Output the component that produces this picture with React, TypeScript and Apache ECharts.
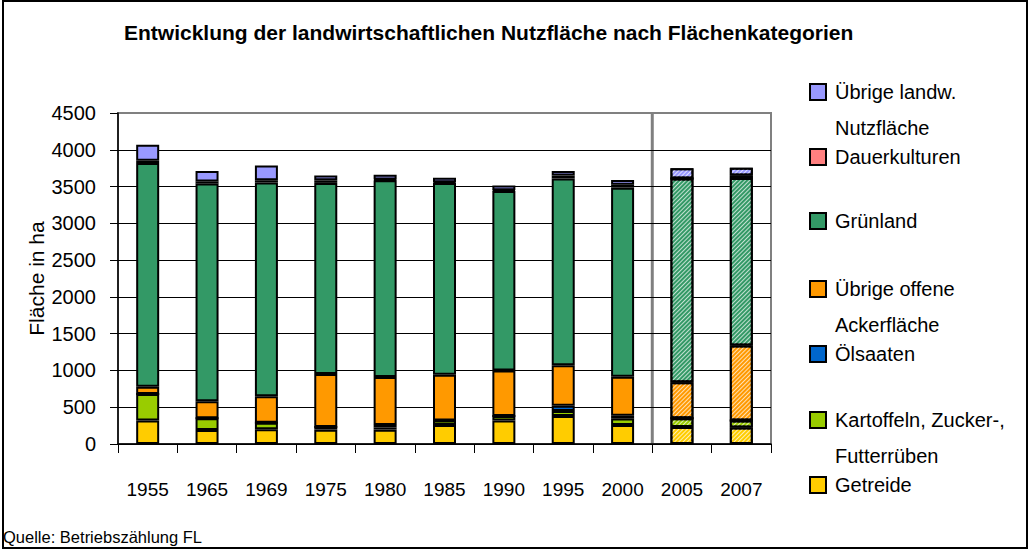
import React, { useEffect, useRef } from "react";
import * as echarts from "echarts";

const FONT = "'Liberation Sans', Arial, sans-serif";

const categories = ["1955", "1965", "1969", "1975", "1980", "1985", "1990", "1995", "2000", "2005", "2007"];
const yTicks = [0, 4500, 500];

const getreide = [320, 190, 200, 195, 195, 260, 320, 380, 260, 230, 225];
const kartoffeln = [360, 160, 90, 35, 30, 60, 60, 70, 85, 120, 95];
const oelsaaten = [0, 0, 0, 0, 35, 0, 0, 70, 40, 0, 0];
const uebrigeOffene = [100, 230, 360, 720, 650, 620, 620, 550, 530, 490, 1020];
const gruenland = [3040, 2960, 2905, 2600, 2675, 2610, 2440, 2540, 2570, 2770, 2275];
const dauerkulturen = [30, 30, 30, 35, 10, 10, 10, 40, 40, 0, 35];
const uebrigeLandw = [220, 140, 200, 65, 65, 60, 65, 60, 65, 140, 105];

const hatchedFrom = 9;

const seriesDefs = [
  { name: "Getreide", label: "Getreide", second: "", color: "#FFCC00", data: getreide, legendTop: 475 },
  { name: "Kartoffeln, Zucker-, Futterrüben", label: "Kartoffeln, Zucker-,", second: "Futterrüben", color: "#99CC00", data: kartoffeln, legendTop: 410 },
  { name: "Ölsaaten", label: "Ölsaaten", second: "", color: "#0066CC", data: oelsaaten, legendTop: 344 },
  { name: "Übrige offene Ackerfläche", label: "Übrige offene", second: "Ackerfläche", color: "#FF9900", data: uebrigeOffene, legendTop: 279 },
  { name: "Grünland", label: "Grünland", second: "", color: "#339966", data: gruenland, legendTop: 211 },
  { name: "Dauerkulturen", label: "Dauerkulturen", second: "", color: "#FF8080", data: dauerkulturen, legendTop: 147 },
  { name: "Übrige landw. Nutzfläche", label: "Übrige landw.", second: "Nutzfläche", color: "#9999FF", data: uebrigeLandw, legendTop: 82 },
];

const HATCH = {
  symbol: "rect",
  symbolSize: 1,
  dashArrayX: [1, 0],
  dashArrayY: [1, 1.5],
  rotation: -Math.PI / 4,
  color: "rgba(255,255,255,0.7)",
};

export default function App() {
  const ref = useRef<HTMLDivElement>(null);
  useEffect(() => {
    if (!ref.current) return;
    const chart = echarts.init(ref.current, null, { renderer: "svg" });
    const gridLineColors = Array.from({ length: 10 }, (_, i) => (i === 9 ? "#808080" : "#000"));
    const series = seriesDefs.map((s) => ({
      name: s.name,
      type: "bar",
      stack: "total",
      barWidth: 23,
      itemStyle: { color: s.color, borderColor: "#000", borderWidth: 2 },
      data: s.data.map((v, i) => (i >= hatchedFrom ? { value: v, itemStyle: { decal: HATCH } } : v)),
    }));
    const legends = seriesDefs.map((s) => ({
      data: [s.name],
      left: 809,
      top: s.legendTop,
      padding: 0,
      icon: "rect",
      itemWidth: 16,
      itemHeight: 16,
      selectedMode: false,
      formatter: () => s.label,
      textStyle: { fontSize: 20, color: "#000", fontFamily: FONT, padding: [0, 0, 0, 4] },
    }));
    const secondLines = seriesDefs
      .filter((s) => s.second)
      .map((s) => ({
        type: "text",
        left: 835,
        top: s.legendTop + 36,
        style: { text: s.second, fontSize: 20, fill: "#000", fontFamily: FONT },
      }));
    const baseGraphic = [
      {
        type: "rect",
        shape: { x: 3, y: 1, width: 1024, height: 547 },
        style: { fill: "none", stroke: "#000", lineWidth: 2 },
        silent: true,
      },
      {
        type: "text",
        left: 3,
        top: 528,
        style: { text: "Quelle: Betriebszählung FL", fontSize: 16.5, fill: "#000", fontFamily: FONT },
      },
      ...secondLines,
    ];
    chart.setOption({
      animation: false,
      backgroundColor: "#fff",
      title: {
        text: "Entwicklung der landwirtschaftlichen Nutzfläche nach Flächenkategorien",
        left: 124,
        top: 22,
        padding: 0,
        textStyle: { fontSize: 21, fontWeight: "bold", color: "#000", fontFamily: FONT },
      },
      legend: legends,
      grid: {
        left: 118,
        right: 260,
        top: 113,
        bottom: 111,
        show: true,
        outerBoundsMode: "none",
        containLabel: false,
        borderColor: "#808080",
        borderWidth: 2,
        backgroundColor: "transparent",
      },
      xAxis: {
        type: "category",
        data: categories,
        axisLine: { lineStyle: { color: "#000", width: 1.5 } },
        axisTick: { show: true, length: 9, interval: 0, lineStyle: { color: "#000" } },
        axisLabel: { margin: 36, fontSize: 19, color: "#000", fontFamily: FONT, interval: 0 },
        splitLine: { show: false },
      },
      yAxis: {
        type: "value",
        min: yTicks[0],
        max: yTicks[1],
        interval: yTicks[2],
        name: "Fläche in ha",
        nameLocation: "middle",
        nameGap: 71,
        nameMoveOverlap: false,
        nameTextStyle: { fontSize: 21, color: "#000", fontFamily: FONT },
        axisLine: { show: true, lineStyle: { color: "#000", width: 1.5 } },
        axisTick: { show: true, length: 8, lineStyle: { color: "#000" } },
        axisLabel: { margin: 22, fontSize: 20, color: "#000", fontFamily: FONT, formatter: (v: number) => String(v) },
        splitLine: { show: true, lineStyle: { color: gridLineColors, width: 1 } },
      },
      graphic: baseGraphic,
      series,
    });
    // separator between the 2000 and 2005 categories, positioned from the axis scale
    const xa = chart.convertToPixel({ xAxisIndex: 0 }, categories[hatchedFrom - 1]) as number;
    const xb = chart.convertToPixel({ xAxisIndex: 0 }, categories[hatchedFrom]) as number;
    const y0 = chart.convertToPixel({ yAxisIndex: 0 }, yTicks[0]) as number;
    const y1 = chart.convertToPixel({ yAxisIndex: 0 }, yTicks[1]) as number;
    const xs = (xa + xb) / 2;
    chart.setOption({
      graphic: [
        ...baseGraphic,
        {
          type: "line",
          shape: { x1: xs, y1: y1, x2: xs, y2: y0 },
          style: { stroke: "#808080", lineWidth: 3 },
          silent: true,
          z: 0,
        },
      ],
    });
    return () => chart.dispose();
  }, []);
  return <div ref={ref} style={{ position: "fixed", left: 0, top: 0, width: 1031, height: 555 }} />;
}
